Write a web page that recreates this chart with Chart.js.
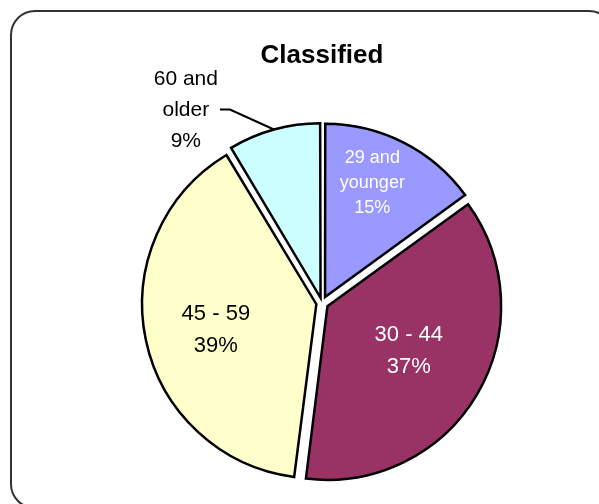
<!DOCTYPE html>
<html>
<head>
<meta charset="utf-8">
<script src="https://cdn.jsdelivr.net/npm/chart.js@4/dist/chart.umd.min.js"></script>
<style>
  body { margin: 0; background: #fff; }
</style>
</head>
<body>
<canvas id="pie" width="599" height="504"></canvas>
<script>
const categories = ['29 and younger', '30 - 44', '45 - 59', '60 and older'];
const label_lines = [['29 and', 'younger'], ['30 - 44'], ['45 - 59'], ['60 and', 'older']];
const shares = [15, 37, 39.4, 8.6];

const slice_colors = ['#9999ff', '#993366', '#ffffcc', '#ccffff'];
const text_colors = ['#fff', '#fff', '#000', '#000'];
// label placement: fraction of radius + small angle nudge (deg), last one sits outside with a leader
const label_spots = [
    {r: 0.71, turn: -4.5, size: 18, pitch: 25},
    {r: 0.53, turn: -1.9, size: 22, pitch: 32},
    {r: 0.59, turn: -2.5, size: 22, pitch: 32},
    {outside: true, size: 21, pitch: 31}
];
const EXPLODE = 8;
const FONT = "'Liberation Sans', Arial, sans-serif";

// chart.js moves an arc by offset/4 * (2 - sin(circumference)), so undo that to get EXPLODE px each
function explodeOffset(c) {
    const total = shares.reduce((a, b) => a + b, 0);
    const circ = shares[c.dataIndex] / total * 2 * Math.PI;
    return 4 * EXPLODE / (2 - Math.sin(Math.min(Math.PI, circ)));
}

const frame = {
    id: 'frame',
    beforeDraw(chart) {
        const ctx = chart.ctx;
        ctx.save();
        ctx.beginPath();
        ctx.roundRect(11, 11, 602, 497, 24);
        ctx.lineWidth = 2;
        ctx.strokeStyle = '#333';
        ctx.stroke();
        ctx.restore();
    }
};

const sliceLabels = {
    id: 'sliceLabels',
    afterDatasetsDraw(chart) {
        const ctx = chart.ctx;
        const meta = chart.getDatasetMeta(0);
        const total = shares.reduce((a, b) => a + b, 0);
        meta.data.forEach((arc, i) => {
            const p = arc.getProps(['x', 'y', 'startAngle', 'endAngle', 'outerRadius'], true);
            const mid = (p.startAngle + p.endAngle) / 2;
            const cx = p.x + Math.cos(mid) * EXPLODE;
            const cy = p.y + Math.sin(mid) * EXPLODE;
            const spot = label_spots[i];
            const lines = label_lines[i].concat(Math.round(shares[i] / total * 100) + '%');
            ctx.save();
            ctx.font = spot.size + 'px ' + FONT;
            ctx.fillStyle = text_colors[i];
            ctx.textAlign = 'center';
            ctx.textBaseline = 'middle';
            let tx, ty;
            if (spot.outside) {
                const ex = cx + Math.cos(mid) * p.outerRadius;
                const ey = cy + Math.sin(mid) * p.outerRadius;
                const bx = ex - 44, by = ey - 20;
                ctx.beginPath();
                ctx.moveTo(ex, ey);
                ctx.lineTo(bx, by);
                ctx.lineTo(bx - 10, by);
                ctx.lineWidth = 2;
                ctx.strokeStyle = '#000';
                ctx.stroke();
                const w = Math.max(...lines.map(l => ctx.measureText(l).width));
                tx = bx - 12 - w / 2;
                ty = by + 1;
            } else {
                const a = mid + spot.turn * Math.PI / 180;
                tx = cx + Math.cos(a) * p.outerRadius * spot.r;
                ty = cy + Math.sin(a) * p.outerRadius * spot.r;
            }
            const top = ty - (lines.length - 1) * spot.pitch / 2;
            lines.forEach((l, k) => ctx.fillText(l, tx, top + k * spot.pitch));
            ctx.restore();
        });
    }
};

new Chart(document.getElementById('pie'), {
    type: 'pie',
    data: {
        labels: categories,
        datasets: [{
            data: shares,
            backgroundColor: slice_colors,
            borderColor: '#000',
            borderWidth: 2.5,
            borderJoinStyle: 'miter',
            offset: explodeOffset
        }]
    },
    options: {
        responsive: false,
        animation: false,
        events: [],
        radius: 172,
        rotation: 0,
        layout: {padding: {left: 142, right: 97, top: 0, bottom: 20}},
        plugins: {
            legend: {display: false},
            tooltip: {enabled: false},
            title: {
                display: true,
                text: 'Classified',
                color: '#000',
                font: {family: FONT, size: 26, weight: 'bold'},
                padding: {top: 40, bottom: 50.8}
            }
        }
    },
    plugins: [frame, sliceLabels]
});
</script>
</body>
</html>
